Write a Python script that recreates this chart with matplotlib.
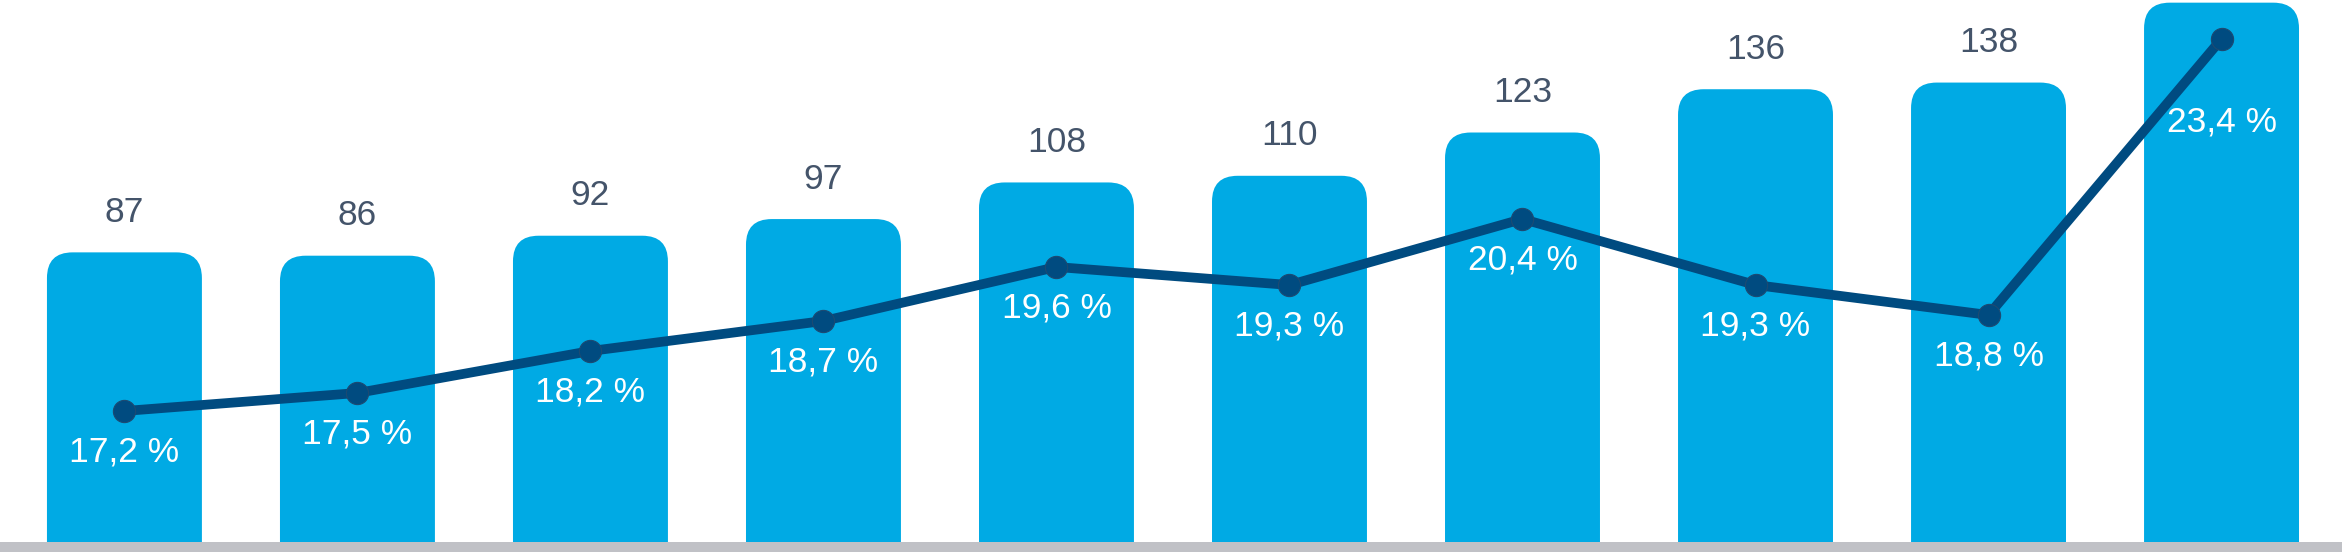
import matplotlib.pyplot as plt
from matplotlib.patches import FancyBboxPatch

plt.rcParams["font.family"] = ["Liberation Sans", "DejaVu Sans"]

# data
volumes = [87, 86, 92, 97, 108, 110, 123, 136, 138, 162]
volume_labels = ["87", "86", "92", "97", "108", "110", "123", "136", "138", ""]
shares = [17.2, 17.5, 18.2, 18.7, 19.6, 19.3, 20.4, 19.3, 18.8, 23.4]
share_labels = ["17,2 %", "17,5 %", "18,2 %", "18,7 %", "19,6 %",
                "19,3 %", "20,4 %", "19,3 %", "18,8 %", "23,4 %"]

BAR = "#00aae4"
LINE = "#004b80"
TEXT = "#44546a"
BASE = "#c0c1c6"


def main() -> None:
    fig = plt.figure(figsize=(23.42, 5.59), dpi=100)
    ax = fig.add_axes([0, 0, 1, 1])
    ax.set_xlim(-0.534, 9.517)
    ax.set_ylim(-5.1, 162.8)
    ax.axis("off")

    xs = list(range(len(volumes)))
    bars = ax.bar(xs, volumes, width=0.665, color=BAR)

    # swap plain bars for ones with rounded tops
    r = 0.11
    aspect = 70
    for rect in bars:
        x, w, h = rect.get_x(), rect.get_width(), rect.get_height()
        rect.set_visible(False)
        ax.add_patch(FancyBboxPatch(
            (x, -r * aspect), w, h + r * aspect,
            boxstyle=f"round,pad=0,rounding_size={r}",
            mutation_aspect=aspect, facecolor=BAR, edgecolor="none", zorder=1,
        ))

    ax.axhspan(-3.0, 0, color=BASE, zorder=3, lw=0)
    ax.axhspan(-10, -3.0, color="white", zorder=3, lw=0)

    for x, v, lab in zip(xs, volumes, volume_labels):
        if lab:
            ax.annotate(lab, (x, v), xytext=(0, 28.8), textcoords="offset points",
                        ha="center", va="center", fontsize=25.5, color=TEXT)

    ax2 = ax.twinx()
    ax2.set_ylim(14.733, 24.05)
    ax2.axis("off")
    ax2.plot(xs, shares, color=LINE, lw=7, marker="o", markersize=16,
             markeredgecolor="#1d4a72", markeredgewidth=0.8,
             solid_joinstyle="round", zorder=4)

    for i, (x, s, lab) in enumerate(zip(xs, shares, share_labels)):
        dy = -60 if i == len(shares) - 1 else -29.5
        ax2.annotate(lab, (x, s), xytext=(0, dy), textcoords="offset points",
                     ha="center", va="center", fontsize=25.5, color="white", zorder=5)

    fig.savefig("out.png", dpi=100)


if __name__ == "__main__":
    main()
